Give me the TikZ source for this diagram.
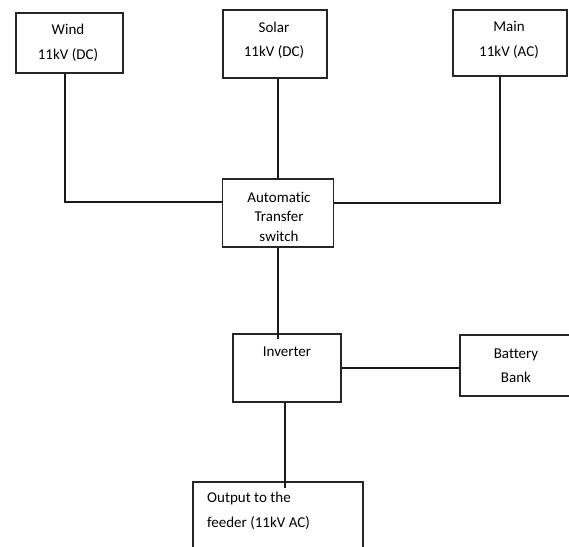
\documentclass[tikz,border=0pt]{standalone}
\usepackage{fontspec}
\setmainfont{Carlito}[Ligatures=NoCommon]
\usepackage{tikz}
\usetikzlibrary{positioning}

\tikzset{
	blk/.style={draw=black!85, line width=1.6pt, inner sep=0pt},
	lbl/.style={align=center, inner sep=0pt, font=\fontsize{15}{24.5}\selectfont},
	wire/.style={draw=black!90, line width=1.6pt}
}

\begin{document}
\begin{tikzpicture}[x=1pt, y=-1pt]
	    \clip (0,0) rectangle (569,546);
	    % blocks
	    \node[blk, minimum width=107, minimum height=60] (wind) at (69.5,43) {};
	    \node[blk, minimum width=104, minimum height=68] (solar) at (275,44) {};
	    \node[blk, minimum width=114, minimum height=66] (main) at (510,43) {};
	    \node[blk, minimum width=111, minimum height=68] (ats) at (278,213) {};
	    \node[blk, minimum width=108, minimum height=68] (inv) at (287,368) {};
	    \node[blk, minimum width=112, minimum height=61] (bat) at (516,365.5) {};
	    \node[blk, minimum width=170, minimum height=78] (out) at (278,521) {};
		% texts
	    \node[lbl] (windtxt) at (68,43) {Wind\\11kV (DC)};
	    \node[lbl] (solartxt) at (274,40.5) {Solar\\11kV (DC)};
	    \node[lbl] (maintxt) at (509,40) {Main\\11kV (AC)};
	    \node[lbl, font=\fontsize{15}{19.5}\selectfont] (atstxt) at (279,216.5) {Automatic\\Transfer\\switch};
	    \node[lbl] (invtxt) at (287,352) {Inverter};
	    \node[lbl] (battxt) at (516,365.5) {Battery\\Bank};
	    \node[lbl, align=left, anchor=west] (outtxt) at (207,511) {Output to the\\feeder (11kV AC)};
		% connections
	    \coordinate (wj) at (65,202);
	    \coordinate (mj) at (500,203);
	    \coordinate (ai) at (278,339);
	    \coordinate (io) at (285,488);
		\begin{scope}[every path/.style={wire}]
			\draw (wind.south -| wj) -- (wj) -- (ats.west |- wj);
			\draw (main.south -| mj) -- (mj) -- (ats.east |- mj);
			\draw (solar.south -| ats.north) -- (ats.north);
			\draw (ats.south -| ai) -- (ai);
			\draw (inv.east) -- (bat.west |- inv.east);
			\draw (inv.south -| io) -- (io);
		\end{scope}
	\end{tikzpicture}
\end{document}
